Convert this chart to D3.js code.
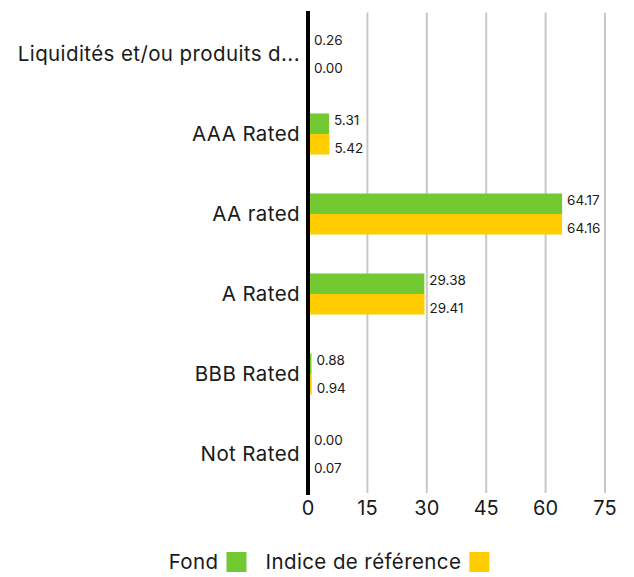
<!DOCTYPE html>
<html>
<head>
<meta charset="utf-8">
<script src="https://cdn.jsdelivr.net/npm/d3@7"></script>
<style>
  body { margin: 0; background: #fff; }
  text { font-family: Inter, "Noto Sans", sans-serif; fill: #1a1a1a; }
</style>
</head>
<body>
<div id="chart"></div>
<script>
const categories = ['Liquidités et/ou produits d...', 'AAA Rated', 'AA rated', 'A Rated', 'BBB Rated', 'Not Rated'];
const fondValues = [0.26, 5.31, 64.17, 29.38, 0.88, 0.00];
const indiceValues = [0.00, 5.42, 64.16, 29.41, 0.94, 0.07];
const seriesNames = ['Fond', 'Indice de référence'];
const seriesColors = ['#72c932', '#ffcc00'];
const xTicks = [0, 15, 30, 45, 60, 75];

const width = 634, height = 577;

const svg = d3.select('#chart').append('svg')
  .attr('width', width)
  .attr('height', height);

const x = d3.scaleLinear().domain([0, 75]).range([308, 605]);
const y = d3.scaleBand().domain(categories).range([14, 494])
  .paddingInner(0.4875).paddingOuter(0.24375);
const sub = d3.scaleBand().domain([0, 1]).range([0, y.bandwidth()]);

// gridlines
svg.append('g')
  .selectAll('line')
  .data(xTicks.slice(1))
  .join('line')
  .attr('x1', d => x(d)).attr('x2', d => x(d))
  .attr('y1', 12.5).attr('y2', 493)
  .attr('stroke', '#c8c8c8')
  .attr('stroke-width', 2);

const rows = categories.map((c, i) => ({ cat: c, vals: [fondValues[i], indiceValues[i]] }));

const group = svg.append('g').selectAll('g')
  .data(rows)
  .join('g')
  .attr('transform', d => `translate(0,${y(d.cat)})`);

group.selectAll('rect')
  .data(d => d.vals)
  .join('rect')
  .attr('x', x(0))
  .attr('y', (d, i) => sub(i))
  .attr('width', d => x(d) - x(0))
  .attr('height', sub.bandwidth())
  .attr('fill', (d, i) => seriesColors[i]);

group.selectAll('text.val')
  .data(d => d.vals)
  .join('text')
  .attr('class', 'val')
  .attr('x', d => Math.max(x(d), x(0) + 1) + 5)
  .attr('y', (d, i) => sub(i) + sub.bandwidth() / 2 + (i === 0 ? -3.5 : 4))
  .attr('dy', '0.35em')
  .style('font-size', '13.5px')
  .text(d => d.toFixed(2));

// category labels
svg.append('g')
  .selectAll('text')
  .data(categories)
  .join('text')
  .attr('x', 300)
  .attr('y', d => y(d) + y.bandwidth() / 2)
  .attr('dy', '0.36em')
  .attr('text-anchor', 'end')
  .style('font-size', '20.5px')
  .style('letter-spacing', '0.4px')
  .text(d => d);

// axis line
svg.append('line')
  .attr('x1', x(0)).attr('x2', x(0))
  .attr('y1', 11).attr('y2', 495)
  .attr('stroke', '#000')
  .attr('stroke-width', 4);

// tick labels
svg.append('g')
  .selectAll('text')
  .data(xTicks)
  .join('text')
  .attr('x', d => x(d))
  .attr('y', 508)
  .attr('dy', '0.36em')
  .attr('text-anchor', 'middle')
  .style('font-size', '20px')
  .text(d => d);

// legend
const legend = svg.append('g');
let lx = 0;
seriesNames.forEach((name, i) => {
  const t = legend.append('text')
    .attr('x', lx)
    .attr('y', 562)
    .attr('dy', '0.36em')
    .style('font-size', '20.5px')
    .style('letter-spacing', '0.4px')
    .text(name);
  const w = t.node().getComputedTextLength();
  legend.append('rect')
    .attr('x', lx + w + 8)
    .attr('y', 552)
    .attr('width', 20)
    .attr('height', 20)
    .attr('fill', seriesColors[i]);
  lx += w + 8 + 20 + 19;
});
const total = lx - 19;
legend.attr('transform', `translate(${329 - total / 2},0)`);
</script>
</body>
</html>
